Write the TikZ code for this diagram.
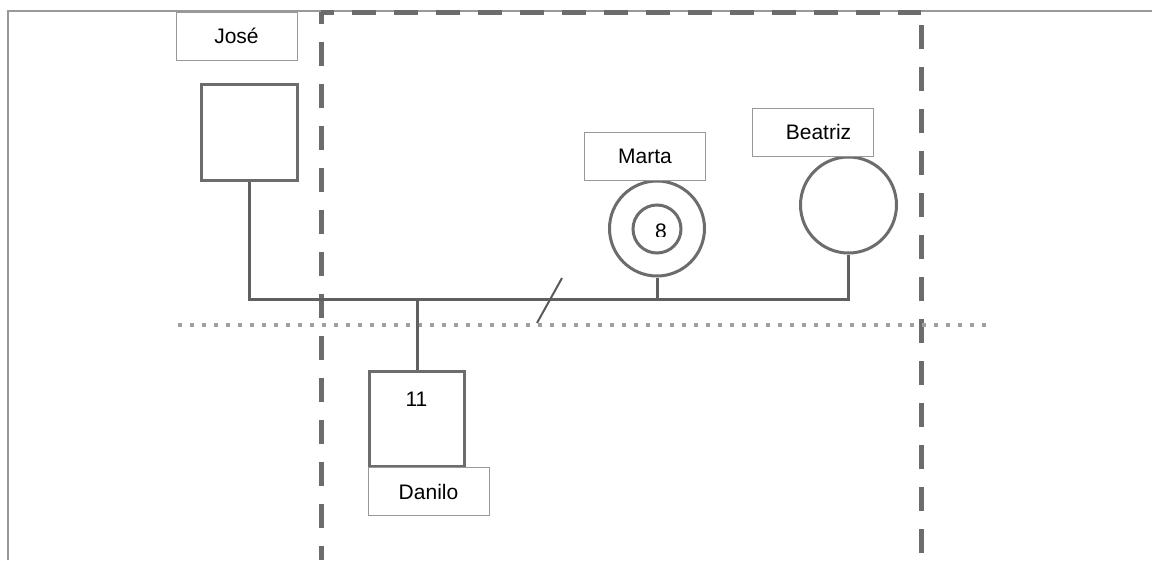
\documentclass[tikz,border=0pt]{standalone}
\usepackage{fontspec}
\setmainfont{Liberation Sans}
\begin{document}
\begin{tikzpicture}[x=1pt,y=-1pt,
  frameline/.style={draw=gray!80, line width=1.2pt},
  zoneline/.style={draw=gray!85!black, line width=5pt, dash pattern=on 24pt off 18pt},
  dotline/.style={draw=gray!75, line width=4pt, dash pattern=on 4pt off 8pt},
  namebox/.style={draw=gray!80, line width=1pt, fill=white, inner sep=0pt,
    minimum width=121pt, minimum height=48pt, text height=15pt, text depth=0pt,
    font=\fontsize{21}{25}\selectfont},
  male/.style={draw=gray!85!black, line width=3pt, fill=white, inner sep=0pt, minimum size=96pt},
  female/.style={draw=gray!85!black, line width=3pt, fill=white, circle, inner sep=0pt},
  link/.style={draw=gray!75!black, line width=3pt},
  txt/.style={inner sep=0pt, font=\fontsize{21}{25}\selectfont, anchor=base}
]
\useasboundingbox (0,0) rectangle (1152,560);

% outer frame (top and left only)
\draw[frameline] (8,560) -- (8,11) -- (1152,11);

% household boundaries
\draw[zoneline, dash phase=12pt] (321,12) -- (321,560);
\draw[zoneline, dash phase=11pt] (321,12) -- (921,12);
\draw[zoneline, dash phase=29pt] (921,12) -- (921,560);
\draw[dotline] (178,325) -- (988,325);

% persons
\node[male] (jose) at (249,132.5) {};
\node[namebox] (josel) at (236.5,36) {José};

\node[female, minimum size=95pt] (marta) at (657,228.5) {};
\node[female, minimum size=48pt] (martain) at (657,229) {};
\node[namebox] (martal) at (645,156) {Marta};
\begin{scope}
  \clip (620,200) rectangle (700,236.5);
  \node[txt] (age8) at (661,238) {8};
\end{scope}

\node[female, minimum size=96pt] (beatriz) at (848.5,205) {};
\node[namebox] (beatrizl) at (812.5,132) {\hspace*{12pt}Beatriz};

\node[male, minimum size=95pt] (danilo) at (417,419) {};
\node[txt] (age11) at (416.5,406) {11};
\node[namebox] (danilol) at (428.5,491.5) {Danilo};

% family lines
\coordinate (cj) at (jose.south |- 0,299);
\coordinate (cb) at (beatriz.south |- 0,299);
\draw[link] (jose.south) -- (cj) -- (cb) -- (beatriz.south);
\draw[link] (marta.south) -- (marta.south |- cj);
\draw[link] (danilo.north |- cj) -- (danilo.north);

% separation mark
\coordinate (s1) at (537,323);
\coordinate (s2) at (562,278);
\draw[draw=gray!70!black, line width=2pt] (s1) -- (s2);
\end{tikzpicture}
\end{document}
